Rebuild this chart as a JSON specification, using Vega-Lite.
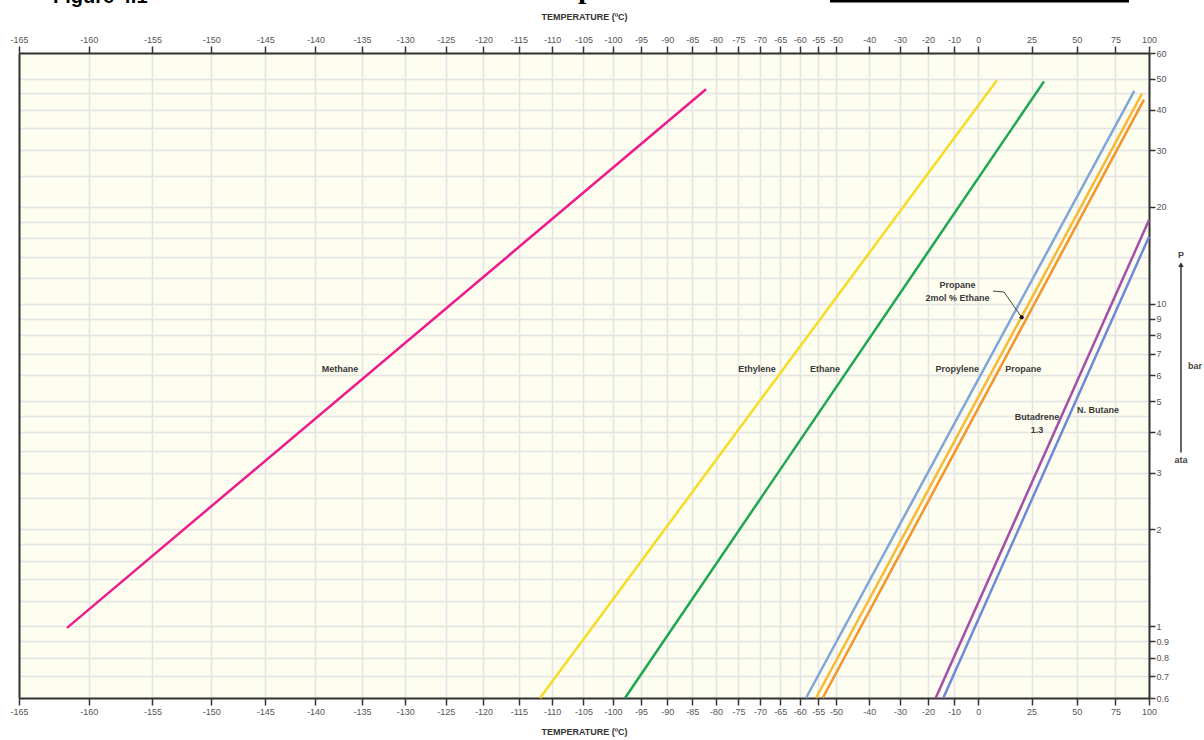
{
  "$schema": "https://vega.github.io/schema/vega-lite/v6.json",
  "width": 1130,
  "height": 645,
  "autosize": {"type": "none"},
  "padding": {"left": 19, "top": 53, "right": 55, "bottom": 42},
  "background": "white",
  "config": {
    "view": {"fill": "#fdfdf0", "stroke": null},
    "font": "Liberation Sans"
  },
  "datasets": {
    "lines": [
      {"gas": "Methane", "temperature_K": 111.55, "pressure_bar": 0.99},
      {"gas": "Methane", "temperature_K": 191.02, "pressure_bar": 46.3},
      {"gas": "Ethylene", "temperature_K": 161.29, "pressure_bar": 0.6},
      {"gas": "Ethylene", "temperature_K": 281.46, "pressure_bar": 49.4},
      {"gas": "Ethane", "temperature_K": 175.27, "pressure_bar": 0.6},
      {"gas": "Ethane", "temperature_K": 304.66, "pressure_bar": 49.0},
      {"gas": "Propylene", "temperature_K": 214.8, "pressure_bar": 0.6},
      {"gas": "Propylene", "temperature_K": 361.77, "pressure_bar": 45.8},
      {"gas": "Propane 2mol % Ethane", "temperature_K": 217.5, "pressure_bar": 0.6},
      {"gas": "Propane 2mol % Ethane", "temperature_K": 367.64, "pressure_bar": 44.9},
      {"gas": "Propane", "temperature_K": 219.35, "pressure_bar": 0.6},
      {"gas": "Propane", "temperature_K": 369.2, "pressure_bar": 43.0},
      {"gas": "Butadrene 1.3", "temperature_K": 256.01, "pressure_bar": 0.6},
      {"gas": "Butadrene 1.3", "temperature_K": 373.15, "pressure_bar": 18.2},
      {"gas": "N. Butane", "temperature_K": 258.92, "pressure_bar": 0.6},
      {"gas": "N. Butane", "temperature_K": 373.15, "pressure_bar": 16.15}
    ],
    "leader": [
      {"temperature_K": 279.65, "pressure_bar": 10.96},
      {"temperature_K": 284.7, "pressure_bar": 10.89},
      {"temperature_K": 293.2, "pressure_bar": 9.09}
    ],
    "dot": [
      {"temperature_K": 293.2, "pressure_bar": 9.09}
    ],
    "gasLabels": [
      {"label": "Methane", "temperature_K": 135.75, "pressure_bar": 6.29},
      {"label": "Ethylene", "temperature_K": 202.46, "pressure_bar": 6.29},
      {"label": "Ethane", "temperature_K": 219.99, "pressure_bar": 6.29},
      {"label": "Propylene", "temperature_K": 264.4, "pressure_bar": 6.29},
      {"label": "Propane", "temperature_K": 294.0, "pressure_bar": 6.29},
      {"label": "Propane\n2mol % Ethane", "temperature_K": 264.52, "pressure_bar": 11.44},
      {"label": "Butadrene\n1.3", "temperature_K": 300.97, "pressure_bar": 4.47},
      {"label": "N. Butane", "temperature_K": 336.45, "pressure_bar": 4.69}
    ],
    "unitLabels": [
      {"label": "P", "temperature_K": 400.5, "pressure_bar": 14.17},
      {"label": "bar", "temperature_K": 413.8, "pressure_bar": 6.42},
      {"label": "ata", "temperature_K": 400.5, "pressure_bar": 3.28}
    ],
    "arrow": [
      {"temperature_K": 400.5, "pressure_bar": 3.46, "pressure_top": 13.1}
    ],
    "arrowHead": [
      {"temperature_K": 400.5, "pressure_bar": 13.25}
    ],
    "figureTitle": [
      {"label": "Figure 4.1", "temperature_K": 110.54, "pressure_bar": 85.6}
    ],
    "headingFragment": [
      {"label": "p", "temperature_K": 167.26, "pressure_bar": 88.6}
    ],
    "topBar": [
      {"temperature_K": 221.4, "temperature_end": 357.85, "pressure_bar": 86.8}
    ]
  },
  "layer": [
    {
      "data": {"name": "lines"},
      "mark": {"type": "point", "opacity": 0},
      "encoding": {
        "x": {
          "field": "temperature_K", "type": "quantitative",
          "scale": {"type": "pow", "exponent": -0.98, "domain": [108.15, 373.15], "zero": false, "nice": false},
          "axis": {
            "orient": "bottom",
            "values": [108.15, 113.15, 118.15, 123.15, 128.15, 133.15, 138.15, 143.15, 148.15, 153.15, 158.15, 163.15, 168.15, 173.15, 178.15, 183.15, 188.15, 193.15, 198.15, 203.15, 208.15, 213.15, 218.15, 223.15, 233.15, 243.15, 253.15, 263.15, 273.15, 298.15, 323.15, 348.15, 373.15],
            "labelExpr": "'' + round(datum.value - 273.15)",
            "grid": true, "gridColor": "#e4e4e4", "gridWidth": 1.5,
            "domain": true, "domainColor": "#333333", "domainWidth": 2,
            "ticks": true, "tickSize": 7, "tickWidth": 1.5, "tickColor": "#333333",
            "labelFontSize": 9, "labelColor": "#555555", "labelPadding": 2,
            "labelOverlap": false, "labelFlush": false, "labelBound": false,
            "title": "TEMPERATURE (ºC)", "titleFontSize": 9, "titleFontWeight": "bold",
            "titleColor": "#333333", "titlePadding": 11
          }
        },
        "y": {
          "field": "pressure_bar", "type": "quantitative",
          "scale": {"type": "log", "domain": [0.6, 60], "nice": false},
          "axis": {
            "orient": "left",
            "values": [0.6, 0.7, 0.8, 0.9, 1, 1.2, 1.4, 1.6, 1.8, 2, 2.5, 3, 3.5, 4, 4.5, 5, 6, 7, 8, 9, 10, 12, 14, 16, 18, 20, 25, 30, 35, 40, 45, 50, 60],
            "grid": true, "gridColor": "#e4e4e4", "gridWidth": 1.5,
            "labels": false, "ticks": false,
            "domain": true, "domainColor": "#333333", "domainWidth": 2,
            "title": null
          }
        }
      }
    },
    {
      "data": {"name": "lines"},
      "mark": {"type": "line", "strokeWidth": 2.5},
      "encoding": {
        "x": {
          "field": "temperature_K", "type": "quantitative",
          "scale": {"type": "pow", "exponent": -0.98, "domain": [108.15, 373.15], "zero": false, "nice": false},
          "axis": {
            "orient": "top",
            "values": [108.15, 113.15, 118.15, 123.15, 128.15, 133.15, 138.15, 143.15, 148.15, 153.15, 158.15, 163.15, 168.15, 173.15, 178.15, 183.15, 188.15, 193.15, 198.15, 203.15, 208.15, 213.15, 218.15, 223.15, 233.15, 243.15, 253.15, 263.15, 273.15, 298.15, 323.15, 348.15, 373.15],
            "labelExpr": "'' + round(datum.value - 273.15)",
            "grid": false,
            "domain": true, "domainColor": "#333333", "domainWidth": 2,
            "ticks": true, "tickSize": 7, "tickWidth": 1.5, "tickColor": "#333333",
            "labelFontSize": 9, "labelColor": "#555555", "labelPadding": 2,
            "labelOverlap": false, "labelFlush": false, "labelBound": false,
            "title": "TEMPERATURE (ºC)", "titleFontSize": 9, "titleFontWeight": "bold",
            "titleColor": "#333333", "titlePadding": 14
          }
        },
        "y": {
          "field": "pressure_bar", "type": "quantitative",
          "scale": {"type": "log", "domain": [0.6, 60], "nice": false},
          "axis": {
            "orient": "right",
            "values": [0.6, 0.7, 0.8, 0.9, 1, 2, 3, 4, 5, 6, 7, 8, 9, 10, 20, 30, 40, 50, 60],
            "labelExpr": "'' + datum.value",
            "grid": false,
            "domain": true, "domainColor": "#333333", "domainWidth": 2,
            "ticks": true, "tickSize": 6, "tickWidth": 1.5, "tickColor": "#333333",
            "labelFontSize": 9, "labelColor": "#555555", "labelPadding": 1,
            "labelOverlap": false, "labelFlush": false, "labelBound": false,
            "title": null
          }
        },
        "color": {
          "field": "gas", "type": "nominal",
          "scale": {
            "domain": ["Methane", "Ethylene", "Ethane", "Propylene", "Propane 2mol % Ethane", "Propane", "Butadrene 1.3", "N. Butane"],
            "range": ["#ec1c8c", "#f6dc24", "#1ea651", "#80a6d9", "#f8b934", "#f3952a", "#a64fa6", "#6f88d7"]
          },
          "legend": null
        }
      }
    },
    {
      "data": {"name": "leader"},
      "mark": {"type": "line", "color": "#444444", "strokeWidth": 1},
      "encoding": {
        "x": {"field": "temperature_K", "type": "quantitative", "axis": null},
        "y": {"field": "pressure_bar", "type": "quantitative", "axis": null}
      }
    },
    {
      "data": {"name": "dot"},
      "mark": {"type": "point", "filled": true, "color": "#111111", "size": 18, "opacity": 1},
      "encoding": {
        "x": {"field": "temperature_K", "type": "quantitative", "axis": null},
        "y": {"field": "pressure_bar", "type": "quantitative", "axis": null}
      }
    },
    {
      "data": {"name": "gasLabels"},
      "mark": {"type": "text", "fontSize": 9, "fontWeight": "bold", "color": "#3a3a3a", "align": "center", "baseline": "middle", "lineBreak": "\n", "lineHeight": 13},
      "encoding": {
        "x": {"field": "temperature_K", "type": "quantitative", "axis": null},
        "y": {"field": "pressure_bar", "type": "quantitative", "axis": null},
        "text": {"field": "label"}
      }
    },
    {
      "data": {"name": "unitLabels"},
      "mark": {"type": "text", "fontSize": 9, "fontWeight": "bold", "color": "#444444", "align": "center", "baseline": "middle"},
      "encoding": {
        "x": {"field": "temperature_K", "type": "quantitative", "axis": null},
        "y": {"field": "pressure_bar", "type": "quantitative", "axis": null},
        "text": {"field": "label"}
      }
    },
    {
      "data": {"name": "arrow"},
      "mark": {"type": "rule", "color": "#333333", "strokeWidth": 1.5},
      "encoding": {
        "x": {"field": "temperature_K", "type": "quantitative", "axis": null},
        "y": {"field": "pressure_bar", "type": "quantitative", "axis": null},
        "y2": {"field": "pressure_top"}
      }
    },
    {
      "data": {"name": "arrowHead"},
      "mark": {"type": "point", "shape": "triangle-up", "filled": true, "color": "#333333", "size": 30, "opacity": 1},
      "encoding": {
        "x": {"field": "temperature_K", "type": "quantitative", "axis": null},
        "y": {"field": "pressure_bar", "type": "quantitative", "axis": null}
      }
    },
    {
      "data": {"name": "figureTitle"},
      "mark": {"type": "text", "fontSize": 20, "fontWeight": "bold", "color": "#000000", "align": "left", "baseline": "alphabetic"},
      "encoding": {
        "x": {"field": "temperature_K", "type": "quantitative", "axis": null},
        "y": {"field": "pressure_bar", "type": "quantitative", "axis": null},
        "text": {"field": "label"}
      }
    },
    {
      "data": {"name": "headingFragment"},
      "mark": {"type": "text", "fontSize": 30, "fontWeight": "bold", "font": "Liberation Serif", "color": "#000000", "align": "left", "baseline": "alphabetic"},
      "encoding": {
        "x": {"field": "temperature_K", "type": "quantitative", "axis": null},
        "y": {"field": "pressure_bar", "type": "quantitative", "axis": null},
        "text": {"field": "label"}
      }
    },
    {
      "data": {"name": "topBar"},
      "mark": {"type": "rule", "color": "#000000", "strokeWidth": 2.5},
      "encoding": {
        "x": {"field": "temperature_K", "type": "quantitative", "axis": null},
        "x2": {"field": "temperature_end"},
        "y": {"field": "pressure_bar", "type": "quantitative", "axis": null}
      }
    }
  ],
  "resolve": {"axis": {"x": "independent", "y": "independent"}}
}
